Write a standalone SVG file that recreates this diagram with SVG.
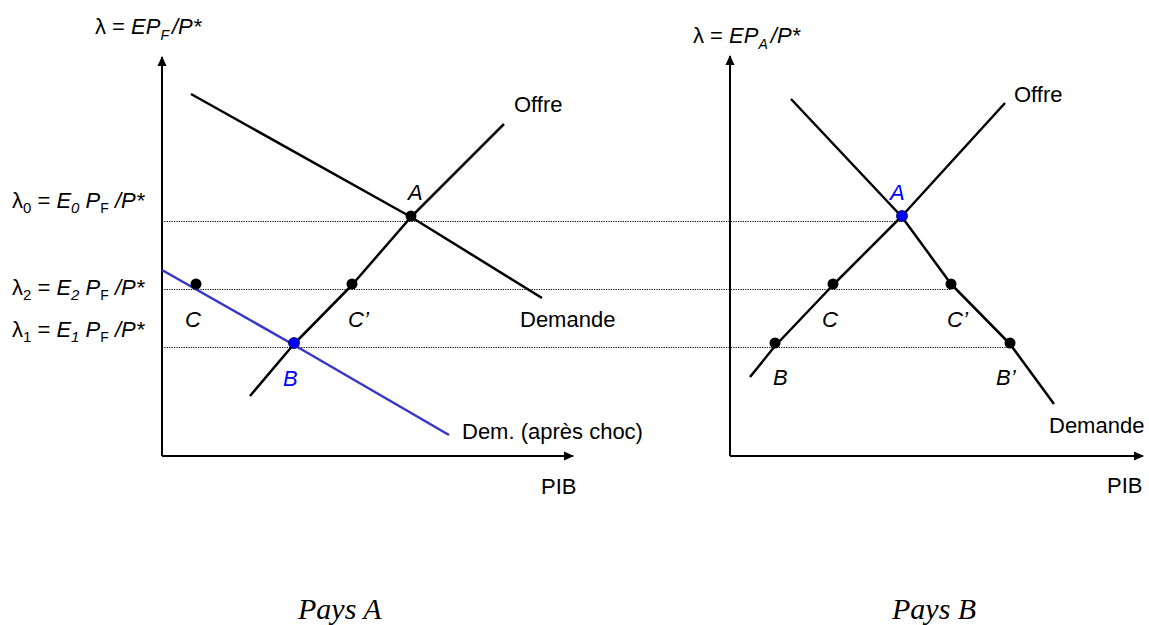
<svg xmlns="http://www.w3.org/2000/svg" width="1149" height="625" viewBox="0 0 1149 625">
<style>
.lbl{font-family:"Liberation Sans",Arial,sans-serif;font-size:22px;fill:#000}
.it{font-style:italic}
.blue{fill:#0000ff}
.ax{stroke:#000;stroke-width:2;fill:none}
.crv{stroke:#000;stroke-width:2.5;fill:none;stroke-linejoin:round}
.bcrv{stroke:#3535cc;stroke-width:2.5;fill:none;stroke-linejoin:round}
.dot{stroke:#000;stroke-width:1;stroke-dasharray:1.2 1.2;fill:none}
.pt{fill:#000}
.bpt{fill:#0000ff;stroke:#000033;stroke-width:0.8}
.pays{font-family:"Liberation Serif","Times New Roman",serif;font-size:30px;font-style:italic;fill:#000}
</style>
<defs>
<marker id="arr" markerWidth="10" markerHeight="10" refX="9" refY="5" orient="auto" markerUnits="userSpaceOnUse">
<path d="M0,0.5 L10,5 L0,9.5 Z" fill="#000"/>
</marker>
</defs>
<rect width="1149" height="625" fill="#fff"/>
<g id="connectors">
<line class="dot" x1="162" y1="221.5" x2="902" y2="221.5"/>
<line class="dot" x1="162" y1="289.5" x2="951" y2="289.5"/>
<line class="dot" x1="162" y1="347.5" x2="1010" y2="347.5"/>
<line class="ax" x1="162" y1="456" x2="162" y2="57" marker-end="url(#arr)"/>
<line class="ax" x1="162" y1="456" x2="573" y2="456" marker-end="url(#arr)"/>
<line class="ax" x1="730" y1="456" x2="730" y2="56" marker-end="url(#arr)"/>
<line class="ax" x1="730" y1="456" x2="1143" y2="456" marker-end="url(#arr)"/>
<polyline id="demA" class="crv" points="191,94 411,217 542,298"/>
<polyline id="offA" class="crv" points="250,396 294,344 352,285 411,217 504,124"/>
<polyline id="demApres" class="bcrv" points="162,270 294,345 449,435"/>
<polyline id="offB" class="crv" points="750,377 775,346 833,285 902,216 1005,103"/>
<polyline id="demB" class="crv" points="791,99 902,217 951,284 1010,344 1054,404"/>
</g>
<g id="axis-labels">
<text class="lbl" x="95" y="34">λ = <tspan class="it">EP</tspan><tspan class="it" font-size="14" dy="6">F</tspan><tspan class="it" dx="3" dy="-6">/P*</tspan></text>
<text class="lbl" x="693" y="43">λ = <tspan class="it">EP</tspan><tspan class="it" font-size="14" dy="6">A</tspan><tspan class="it" dx="3" dy="-6">/P*</tspan></text>
<text class="lbl" x="12" y="208">λ<tspan font-size="15" dy="5">0</tspan><tspan dy="-5"> = </tspan><tspan class="it">E</tspan><tspan class="it" font-size="15" dy="5">0</tspan><tspan class="it" dy="-5"> P</tspan><tspan font-size="14" dy="5">F</tspan><tspan class="it" dy="-5"> /P*</tspan></text>
<text class="lbl" x="12" y="295">λ<tspan font-size="15" dy="5">2</tspan><tspan dy="-5"> = </tspan><tspan class="it">E</tspan><tspan class="it" font-size="15" dy="5">2</tspan><tspan class="it" dy="-5"> P</tspan><tspan font-size="14" dy="5">F</tspan><tspan class="it" dy="-5"> /P*</tspan></text>
<text class="lbl" x="12" y="337">λ<tspan font-size="15" dy="5">1</tspan><tspan dy="-5"> = </tspan><tspan class="it">E</tspan><tspan class="it" font-size="15" dy="5">1</tspan><tspan class="it" dy="-5"> P</tspan><tspan font-size="14" dy="5">F</tspan><tspan class="it" dy="-5"> /P*</tspan></text>
<text class="lbl" x="541" y="494">PIB</text>
<text class="lbl" x="1107" y="493">PIB</text>
</g>
<g id="curve-labels">
<text class="lbl" x="514" y="112">Offre</text>
<text class="lbl" x="520" y="327">Demande</text>
<text class="lbl" x="462" y="439">Dem. (après choc)</text>
<text class="lbl" x="1014" y="102">Offre</text>
<text class="lbl" x="1049" y="433">Demande</text>
</g>
<g id="node-A-left"><circle class="pt" cx="411" cy="216" r="5.5"/><text class="lbl it" x="408" y="200">A</text></g>
<g id="node-C-left"><circle class="pt" cx="196" cy="284" r="5.5"/><text class="lbl it" x="185" y="327">C</text></g>
<g id="node-Cp-left"><circle class="pt" cx="352" cy="284" r="5.5"/><text class="lbl it" x="348" y="327">C’</text></g>
<g id="node-B-left"><circle class="bpt" cx="294" cy="343" r="5.5"/><text class="lbl it blue" x="283" y="386">B</text></g>
<g id="node-A-right"><circle class="bpt" cx="902" cy="216" r="5.5"/><text class="lbl it blue" x="890" y="200">A</text></g>
<g id="node-C-right"><circle class="pt" cx="833" cy="284" r="5.5"/><text class="lbl it" x="822" y="327">C</text></g>
<g id="node-Cp-right"><circle class="pt" cx="951" cy="284" r="5.5"/><text class="lbl it" x="947" y="327">C’</text></g>
<g id="node-B-right"><circle class="pt" cx="775" cy="343" r="5.5"/><text class="lbl it" x="773" y="385">B</text></g>
<g id="node-Bp-right"><circle class="pt" cx="1010" cy="343" r="5.5"/><text class="lbl it" x="996" y="385">B’</text></g>
<g id="titles">
<text class="pays" x="298" y="619">Pays A</text>
<text class="pays" x="892" y="619">Pays B</text>
</g>
</svg>
